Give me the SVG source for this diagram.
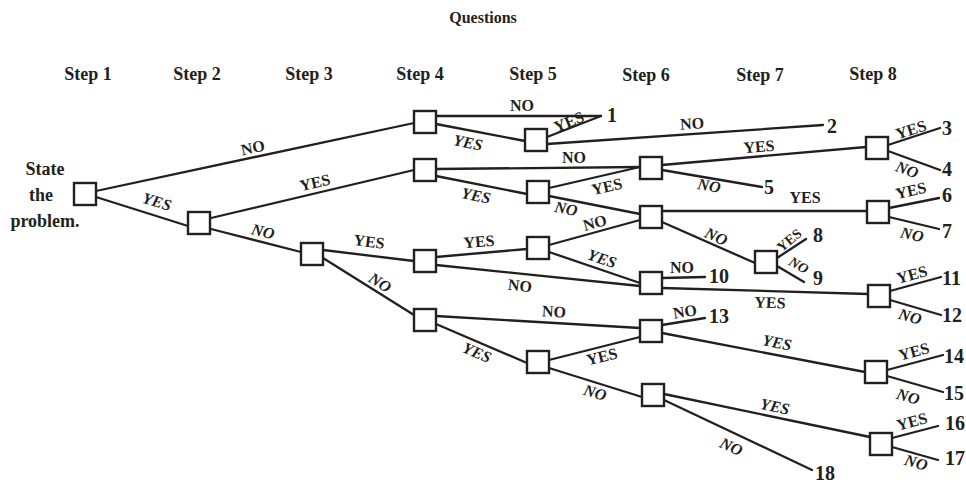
<svg xmlns="http://www.w3.org/2000/svg" width="966" height="483" viewBox="0 0 966 483">
<style>
.box{fill:#fff;stroke:#231f20;stroke-width:2.4}
.ln{stroke:#231f20;stroke-width:2.3;fill:none;stroke-linecap:round}
text{font-family:"Liberation Serif","Times New Roman",serif;font-weight:bold;fill:#231f20}
.hd{font-size:18px;text-anchor:middle}
.q{font-size:16px;text-anchor:middle}
.lb{font-size:16px;text-anchor:middle}
.it{font-style:italic}
.sm{font-size:14px}
.num{font-size:20px}
</style>
<rect width="966" height="483" fill="#fff"/>
<g id="header">
<text class="q" x="483" y="23">Questions</text>
<text class="hd" x="88" y="80">Step 1</text>
<text class="hd" x="197" y="80">Step 2</text>
<text class="hd" x="309" y="80">Step 3</text>
<text class="hd" x="420" y="80">Step 4</text>
<text class="hd" x="533" y="80">Step 5</text>
<text class="hd" x="646" y="81">Step 6</text>
<text class="hd" x="760" y="81">Step 7</text>
<text class="hd" x="873" y="80">Step 8</text>
</g>
<g id="connectors">
<path class="ln" d="M96,191L414,123"/>
<path class="ln" d="M96,197L188,226"/>
<path class="ln" d="M211,218L414,170"/>
<path class="ln" d="M211,229L301,252"/>
<path class="ln" d="M323,250L414,261"/>
<path class="ln" d="M323,258L414,315"/>
<path class="ln" d="M436,116L601,116"/>
<path class="ln" d="M436,124L525,141"/>
<path class="ln" d="M547,137L601,116"/>
<path class="ln" d="M547,144L823,125"/>
<path class="ln" d="M436,169L640,167"/>
<path class="ln" d="M436,176L527,194"/>
<path class="ln" d="M549,188L640,167"/>
<path class="ln" d="M549,196L640,214"/>
<path class="ln" d="M662,165L866,147"/>
<path class="ln" d="M662,170L762,187"/>
<path class="ln" d="M888,145L940,128"/>
<path class="ln" d="M888,151L940,170"/>
<path class="ln" d="M662,211L867,211"/>
<path class="ln" d="M662,222L755,263"/>
<path class="ln" d="M889,208L939,198"/>
<path class="ln" d="M889,217L939,229"/>
<path class="ln" d="M777,258L806,239"/>
<path class="ln" d="M777,266L804,282"/>
<path class="ln" d="M436,257L527,249"/>
<path class="ln" d="M436,265L640,286"/>
<path class="ln" d="M549,245L640,220"/>
<path class="ln" d="M549,252L640,283"/>
<path class="ln" d="M662,278L705,277"/>
<path class="ln" d="M662,288L868,294"/>
<path class="ln" d="M890,291L941,277"/>
<path class="ln" d="M890,300L941,315"/>
<path class="ln" d="M436,316L640,328"/>
<path class="ln" d="M436,324L527,363"/>
<path class="ln" d="M549,360L640,337"/>
<path class="ln" d="M549,368L642,397"/>
<path class="ln" d="M662,325L705,318"/>
<path class="ln" d="M662,333L865,372"/>
<path class="ln" d="M887,370L943,355"/>
<path class="ln" d="M887,376L943,392"/>
<path class="ln" d="M664,394L870,437"/>
<path class="ln" d="M664,400L812,470"/>
<path class="ln" d="M892,438L938,426"/>
<path class="ln" d="M892,447L938,460"/>
<text class="lb" transform="translate(253,148) rotate(-12)" y="5">NO</text>
<text class="lb it" transform="translate(157,202) rotate(17)" y="5">YES</text>
<text class="lb" transform="translate(315,183) rotate(-13)" y="5">YES</text>
<text class="lb it" transform="translate(263,232) rotate(14)" y="5">NO</text>
<text class="lb" transform="translate(369,242) rotate(7)" y="5">YES</text>
<text class="lb it" transform="translate(380,283) rotate(32)" y="5">NO</text>
<text class="lb" transform="translate(522,106)" y="5">NO</text>
<text class="lb it" transform="translate(468,143) rotate(11)" y="5">YES</text>
<text class="lb" transform="translate(569,122) rotate(-22)" y="5">YES</text>
<text class="lb" transform="translate(692,124) rotate(-4)" y="5">NO</text>
<text class="lb" transform="translate(574,158)" y="5">NO</text>
<text class="lb it" transform="translate(476,196) rotate(11)" y="5">YES</text>
<text class="lb" transform="translate(607,187) rotate(-13)" y="5">YES</text>
<text class="lb it" transform="translate(566,209) rotate(11)" y="5">NO</text>
<text class="lb" transform="translate(595,223) rotate(-15)" y="5">NO</text>
<text class="lb" transform="translate(759,147) rotate(-5)" y="5">YES</text>
<text class="lb it" transform="translate(709,186) rotate(10)" y="5">NO</text>
<text class="lb" transform="translate(911,130) rotate(-18)" y="5">YES</text>
<text class="lb it" transform="translate(907,170) rotate(20)" y="5">NO</text>
<text class="lb" transform="translate(805,198)" y="5">YES</text>
<text class="lb it" transform="translate(716,237) rotate(24)" y="5">NO</text>
<text class="lb" transform="translate(911,191) rotate(-13)" y="5">YES</text>
<text class="lb it" transform="translate(912,235) rotate(13)" y="5">NO</text>
<text class="lb sm" transform="translate(789,240) rotate(-40)" y="5">YES</text>
<text class="lb it sm" transform="translate(799,265) rotate(30)" y="5">NO</text>
<text class="lb" transform="translate(479,242) rotate(-5)" y="5">YES</text>
<text class="lb" transform="translate(520,286) rotate(6)" y="5">NO</text>
<text class="lb it" transform="translate(602,259) rotate(19)" y="5">YES</text>
<text class="lb" transform="translate(682,268)" y="5">NO</text>
<text class="lb" transform="translate(770,303) rotate(2)" y="5">YES</text>
<text class="lb" transform="translate(912,275) rotate(-15)" y="5">YES</text>
<text class="lb it" transform="translate(910,317) rotate(16)" y="5">NO</text>
<text class="lb" transform="translate(554,312) rotate(3)" y="5">NO</text>
<text class="lb it" transform="translate(477,353) rotate(23)" y="5">YES</text>
<text class="lb" transform="translate(602,357) rotate(-14)" y="5">YES</text>
<text class="lb it" transform="translate(595,393) rotate(17)" y="5">NO</text>
<text class="lb" transform="translate(685,312) rotate(-9)" y="5">NO</text>
<text class="lb it" transform="translate(777,343) rotate(11)" y="5">YES</text>
<text class="lb" transform="translate(914,352) rotate(-15)" y="5">YES</text>
<text class="lb it" transform="translate(908,397) rotate(16)" y="5">NO</text>
<text class="lb it" transform="translate(775,407) rotate(12)" y="5">YES</text>
<text class="lb it" transform="translate(731,447) rotate(25)" y="5">NO</text>
<text class="lb" transform="translate(912,422) rotate(-15)" y="5">YES</text>
<text class="lb it" transform="translate(916,463) rotate(16)" y="5">NO</text>
</g>
<g id="n-root"><rect class="box" x="74" y="183" width="22" height="22"/>
<text class="hd" x="45" y="175">State</text><text class="hd" x="41" y="201">the</text><text class="hd" x="45" y="227">problem.</text></g>
<g id="n-s2"><rect class="box" x="188" y="212" width="22" height="22"/></g>
<g id="n-s3"><rect class="box" x="301" y="243" width="22" height="22"/></g>
<g id="n-4a"><rect class="box" x="414" y="111" width="22" height="22"/></g>
<g id="n-4b"><rect class="box" x="414" y="159" width="22" height="22"/></g>
<g id="n-4c"><rect class="box" x="414" y="250" width="22" height="22"/></g>
<g id="n-4d"><rect class="box" x="414" y="309" width="22" height="22"/></g>
<g id="n-5a"><rect class="box" x="525" y="129" width="22" height="22"/></g>
<g id="n-5b"><rect class="box" x="527" y="181" width="22" height="22"/></g>
<g id="n-5c"><rect class="box" x="527" y="237" width="22" height="22"/></g>
<g id="n-5d"><rect class="box" x="527" y="351" width="22" height="22"/></g>
<g id="n-6a"><rect class="box" x="640" y="157" width="22" height="22"/></g>
<g id="n-6b"><rect class="box" x="640" y="206" width="22" height="22"/></g>
<g id="n-6c"><rect class="box" x="640" y="272" width="22" height="22"/></g>
<g id="n-6d"><rect class="box" x="640" y="320" width="22" height="22"/></g>
<g id="n-6e"><rect class="box" x="642" y="384" width="22" height="22"/></g>
<g id="n-7a"><rect class="box" x="755" y="251" width="22" height="22"/></g>
<g id="n-8a"><rect class="box" x="866" y="137" width="22" height="22"/></g>
<g id="n-8b"><rect class="box" x="867" y="201" width="22" height="22"/></g>
<g id="n-8c"><rect class="box" x="868" y="285" width="22" height="22"/></g>
<g id="n-8d"><rect class="box" x="865" y="361" width="22" height="22"/></g>
<g id="n-8e"><rect class="box" x="870" y="433" width="22" height="22"/></g>
<g id="outcomes">
<text class="num" x="607" y="122">1</text>
<text class="num" x="827" y="133">2</text>
<text class="num" x="942" y="135">3</text>
<text class="num" x="942" y="176">4</text>
<text class="num" x="764" y="194">5</text>
<text class="num" x="942" y="202">6</text>
<text class="num" x="942" y="238">7</text>
<text class="num" x="813" y="242">8</text>
<text class="num" x="813" y="285">9</text>
<text class="num" x="709" y="283">10</text>
<text class="num" x="942" y="285">11</text>
<text class="num" x="942" y="322">12</text>
<text class="num" x="709" y="323">13</text>
<text class="num" x="944" y="363">14</text>
<text class="num" x="944" y="400">15</text>
<text class="num" x="945" y="430">16</text>
<text class="num" x="945" y="465">17</text>
<text class="num" x="815" y="480">18</text>
</g>
</svg>
